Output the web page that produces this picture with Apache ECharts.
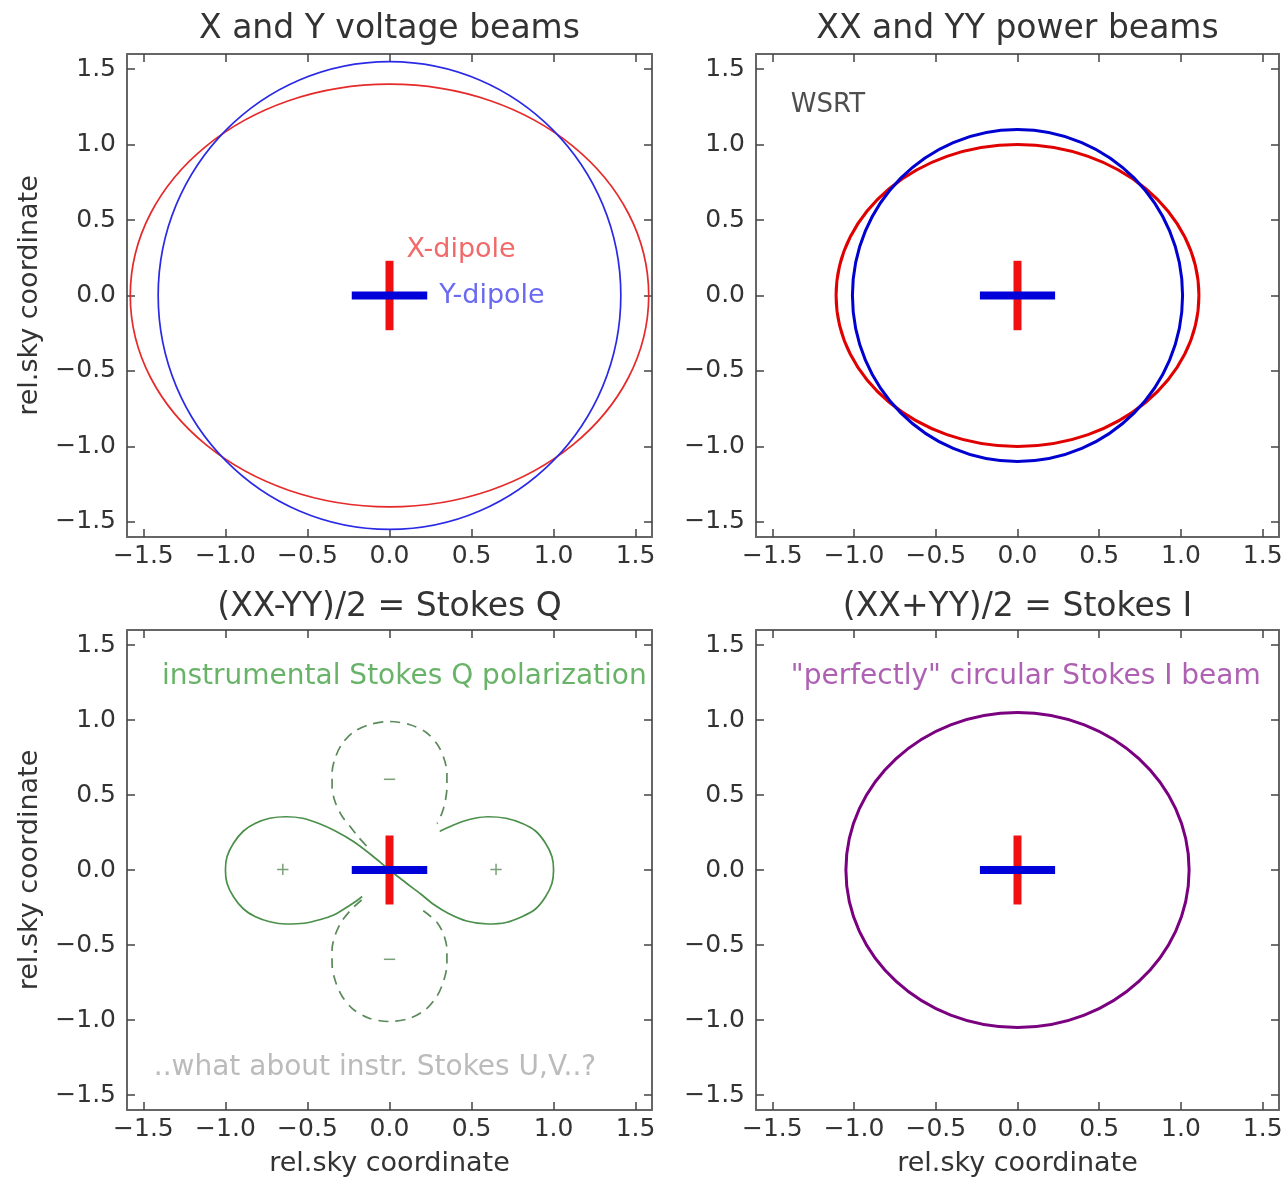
<!DOCTYPE html>
<html><head><meta charset="utf-8">
<script src="https://cdn.jsdelivr.net/npm/echarts@6/dist/echarts.min.js"></script>
<style>html,body{margin:0;padding:0;background:#fff}#c{width:1287px;height:1178px}</style>
</head><body><div id="c"></div>
<script>
// ---------- data ----------
const tickValues = [-1.5, -1.0, -0.5, 0.0, 0.5, 1.0, 1.5];
const axisRange = [-1.6, 1.6];
const panelTitles = ['X and Y voltage beams', 'XX and YY power beams', '(XX-YY)/2 = Stokes Q', '(XX+YY)/2 = Stokes I'];
const axisName = 'rel.sky coordinate';

// beam contours: [centre x, centre y, half-width x, half-height y]
const xDipoleVoltage = [0, 0, 1.58, 1.40];
const yDipoleVoltage = [0, 0, 1.41, 1.55];
const xxPower = [0, 0, 1.11, 1.00];
const yyPower = [0, 0, 1.01, 1.10];
const stokesI = [0, 0, 1.05, 1.05];

// panel 3: Stokes Q contours
const stokesQPositive = [[-0.17,-0.18],[-0.22,-0.22],[-0.27,-0.255],[-0.34,-0.30],[-0.42,-0.33],[-0.52,-0.355],[-0.63,-0.36],[-0.73,-0.345],[-0.82,-0.31],[-0.89,-0.26],[-0.95,-0.18],[-0.99,-0.09],[-1.0,0],[-0.99,0.09],[-0.95,0.18],[-0.89,0.26],[-0.82,0.31],[-0.73,0.345],[-0.63,0.355],[-0.53,0.345],[-0.43,0.31],[-0.33,0.26],[-0.22,0.19],[-0.11,0.10],[0,0],[0.10,-0.085],[0.19,-0.16],[0.27,-0.23],[0.36,-0.29],[0.47,-0.34],[0.60,-0.36],[0.71,-0.35],[0.81,-0.31],[0.89,-0.26],[0.95,-0.18],[0.99,-0.09],[1.0,0],[0.99,0.09],[0.95,0.18],[0.89,0.26],[0.81,0.31],[0.71,0.345],[0.60,0.355],[0.52,0.345],[0.45,0.325],[0.38,0.295],[0.31,0.26]];
const stokesQNegativeTop = [[-0.14,0.16],[-0.19,0.22],[-0.24,0.29],[-0.29,0.36],[-0.33,0.45],[-0.35,0.55],[-0.35,0.65],[-0.33,0.75],[-0.29,0.84],[-0.22,0.92],[-0.12,0.97],[0,0.99],[0.12,0.97],[0.22,0.92],[0.29,0.84],[0.33,0.75],[0.35,0.65],[0.35,0.55],[0.34,0.46],[0.32,0.38],[0.29,0.31]];
const stokesQNegativeBottom = [[-0.17,-0.20],[-0.23,-0.26],[-0.29,-0.34],[-0.33,-0.43],[-0.35,-0.53],[-0.35,-0.63],[-0.33,-0.74],[-0.29,-0.84],[-0.22,-0.93],[-0.12,-0.99],[0,-1.01],[0.12,-0.99],[0.22,-0.93],[0.29,-0.84],[0.33,-0.74],[0.35,-0.63],[0.35,-0.53],[0.33,-0.43],[0.29,-0.35],[0.24,-0.30],[0.19,-0.26]];
const stokesQSignMarks = [[-0.65,0,'+'],[0.65,0,'+'],[0,0.6,'\u2212'],[0,-0.6,'\u2212']];

// dipole cross (all panels)
const xDipoleBar = [[0,-0.23],[0,0.23]];
const yDipoleBar = [[-0.23,0],[0.23,0]];
// text notes [x, y, text]
const notesVoltageX = [[0.10,0.30,'X-dipole']];
const notesVoltageY = [[0.30,0.0,'Y-dipole']];
const notesPower = [[-1.39,1.26,'WSRT']];
const notesQ = [[-1.39,1.29,'instrumental Stokes Q polarization']];
const notesQGray = [[-1.44,-1.32,'..what about instr. Stokes U,V..?']];
const notesI = [[-1.39,1.29,'"perfectly" circular Stokes I beam']];

// ---------- layout / style ----------
const FONT = 'DejaVu Sans';
const grids = [
  {left:127, top:54, width:525, height:483},
  {left:756, top:54, width:523, height:483},
  {left:127, top:630, width:525, height:482},
  {left:756, top:630, width:523, height:482}
];
const titleTops = [13, 13, 591, 591];
const fmt = v => (Math.abs(v) < 1e-9 ? 0 : v).toFixed(1).replace('-', '\u2212');

const xAxes = [], yAxes = [], titles = [];
grids.forEach((g, i) => {
  const base = {
    type:'value', gridIndex:i, min:axisRange[0], max:axisRange[1],
    axisLine:{show:true, onZero:false, lineStyle:{color:'#666', width:2}},
    axisTick:{show:true, inside:true, length:8, customValues:tickValues, lineStyle:{color:'#444', width:1.5}},
    splitLine:{show:false}
  };
  const lab = {show:true, customValues:tickValues, formatter:fmt, fontSize:25, color:'#333', fontFamily:FONT};
  xAxes.push(Object.assign({}, base, {position:'bottom', axisLabel:Object.assign({}, lab, {margin:7}),
    name: i >= 2 ? axisName : '', nameLocation:'middle', nameGap:40,
    nameTextStyle:{fontSize:27, color:'#333', fontFamily:FONT}}));
  xAxes.push(Object.assign({}, base, {position:'top', axisLabel:{show:false}}));
  yAxes.push(Object.assign({}, base, {position:'left', axisLabel:Object.assign({}, lab, {margin:11}),
    name: (i % 2 === 0) ? axisName : '', nameLocation:'middle', nameGap:84,
    nameTextStyle:{fontSize:27, color:'#333', fontFamily:FONT}}));
  yAxes.push(Object.assign({}, base, {position:'right', axisLabel:{show:false}}));
  titles.push({text:panelTitles[i], left:g.left + g.width/2, top:titleTops[i], textAlign:'center', padding:0,
    textStyle:{fontSize:33, fontWeight:'normal', color:'#333', fontFamily:FONT}});
});

const series = [];
function ellipse(i, params, color, width) {
  series.push({type:'custom', xAxisIndex:2*i, yAxisIndex:2*i, silent:true, animation:false,
    data:[params],
    renderItem:(p, api) => {
      const c = api.coord([api.value(0), api.value(1)]);
      const s = api.size([api.value(2), api.value(3)]);
      return {type:'ellipse', shape:{cx:c[0], cy:c[1], rx:s[0], ry:s[1]},
        style:{fill:null, stroke:color, lineWidth:width}};
    }});
}
function line(i, data, color, width, extra) {
  series.push(Object.assign({type:'line', xAxisIndex:2*i, yAxisIndex:2*i, data:data, symbol:'none', showSymbol:false,
    smooth:0.3, silent:true, animation:false,
    lineStyle:{color:color, width:width, cap:'round', join:'round'}}, extra || {}));
}
function notes(i, arr, color, size, pos) {
  series.push({type:'scatter', xAxisIndex:2*i, yAxisIndex:2*i, silent:true, animation:false,
    symbol:'circle', symbolSize:1, itemStyle:{color:'rgba(0,0,0,0)'},
    data: arr.map(n => ({value:[n[0], n[1]], name:n[2]})),
    label:{show:true, position:pos || 'right', distance:0, formatter:p => p.name, color:color, fontSize:size, fontFamily:FONT}});
}
function cross(i) {
  line(i, xDipoleBar, '#f01010', 8, {smooth:false, lineStyle:{color:'#f01010', width:8, cap:'butt'}, z:5});
  line(i, yDipoleBar, '#0000d8', 8, {smooth:false, lineStyle:{color:'#0000d8', width:8, cap:'butt'}, z:6});
}

// panel 1
ellipse(0, xDipoleVoltage, '#e62a2a', 1.7);
ellipse(0, yDipoleVoltage, '#2a2ae6', 1.7);
cross(0);
notes(0, notesVoltageX, '#ee4444', 27);
notes(0, notesVoltageY, '#4444ee', 27);
// panel 2
ellipse(1, xxPower, '#e00000', 3);
ellipse(1, yyPower, '#0000d0', 3);
cross(1);
notes(1, notesPower, '#222', 26);
// panel 3
line(2, stokesQPositive, '#4a8f4a', 1.7);
line(2, stokesQNegativeTop, '#5a8a5a', 1.7, {lineStyle:{color:'#5a8a5a', width:1.7, type:[10,7]}});
line(2, stokesQNegativeBottom, '#5a8a5a', 1.7, {lineStyle:{color:'#5a8a5a', width:1.7, type:[10,7]}});
cross(2);
notes(2, stokesQSignMarks, '#5a8a5a', 18, 'inside');
notes(2, notesQ, '#44a044', 28);
notes(2, notesQGray, '#aaaaaa', 28);
// panel 4
ellipse(3, stokesI, '#7a0080', 3);
cross(3);
notes(3, notesI, '#9a3aa0', 28);

const chart = echarts.init(document.getElementById('c'), null, {renderer:'canvas'});
chart.setOption({
  backgroundColor:'#ffffff',
  animation:false,
  title:titles,
  grid:grids,
  xAxis:xAxes,
  yAxis:yAxes,
  series:series
});
</script></body></html>
